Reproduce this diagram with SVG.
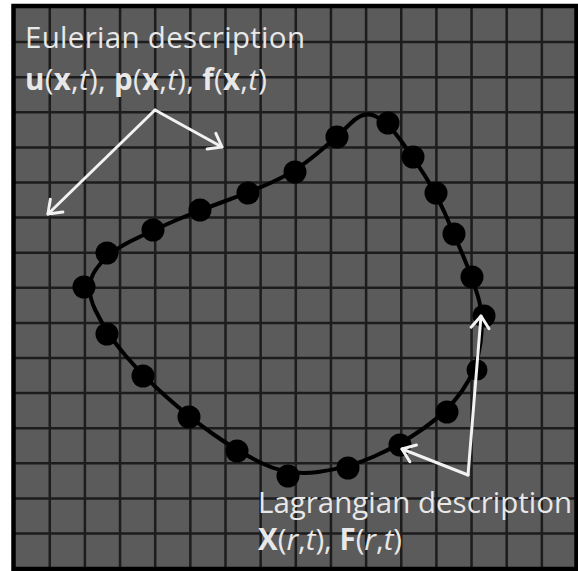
<svg xmlns="http://www.w3.org/2000/svg" width="578" height="571" viewBox="0 0 578 571">
  <style>
    .grid { stroke: #1c1c1c; stroke-width: 2.5; fill: none; }
    .curve { stroke: #000; stroke-width: 4; fill: none; stroke-linejoin: round; }
    .dot { fill: #000; }
    .arrow { stroke: #f2f2f2; stroke-width: 3; fill: none; stroke-linecap: round; stroke-linejoin: round; }
    .label { font-family: "Open Sans", "Noto Sans", "DejaVu Sans", sans-serif; font-size: 29.5px; fill: #e8e8e8; }
    .b { font-weight: bold; }
    .i { font-style: italic; }
  </style>
  <defs>
    <marker id="chev" markerUnits="userSpaceOnUse" markerWidth="30" markerHeight="30" viewBox="-15 -15 30 30" refX="0" refY="0" orient="auto">
      <path d="M-12,-9 L0,0 L-12,9" stroke="#f2f2f2" stroke-width="3" fill="none" stroke-linecap="round" stroke-linejoin="round"/>
    </marker>
  </defs>
  <rect x="0" y="0" width="578" height="571" fill="#ffffff"/>
  <g id="grid">
    <rect x="13.5" y="6" width="563" height="563" fill="#5b5b5b"/>
    <path class="grid" d="M49.75,6V569 M84.9,6V569 M120.05,6V569 M155.2,6V569 M190.35,6V569 M225.5,6V569 M260.65,6V569 M295.8,6V569 M330.95,6V569 M366.1,6V569 M401.25,6V569 M436.4,6V569 M471.55,6V569 M506.7,6V569 M541.85,6V569 M13.5,42.1H576.5 M13.5,77.2H576.5 M13.5,112.3H576.5 M13.5,147.4H576.5 M13.5,182.5H576.5 M13.5,217.6H576.5 M13.5,252.7H576.5 M13.5,287.8H576.5 M13.5,322.9H576.5 M13.5,358H576.5 M13.5,393.1H576.5 M13.5,428.2H576.5 M13.5,463.3H576.5 M13.5,498.4H576.5 M13.5,533.5H576.5"/>
    <rect x="13.5" y="6" width="563" height="563" fill="none" stroke="#000" stroke-width="4.5"/>
  </g>
  <g id="boundary">
    <path class="curve" d="M95.5,270 Q107,253 130,241.5 Q153,230 176.5,220 Q200,210 224,201.5 Q248,193 271.5,182.5 Q295,172 316,154.5 Q337,137 350.5,123.5 Q364,110 376,116.5 Q388,123 400.5,140 Q413,157 424.5,175 Q436,193 445,213.5 Q454,234 463,255.5 Q472,277 478,296.5 Q484,316 480.5,343 Q477,370 462,391 Q447,412 423.5,428.5 Q400,445 374,456.5 Q348,468 318,472 Q288,476 262.5,463.5 Q237,451 213,434 Q189,417 166,396.5 Q143,376 125,355 Q107,334 95.5,310.5 Q84,287 95.5,270 Z"/>
    <g class="dot">
      <circle cx="84" cy="287" r="11.5"/>
      <circle cx="107" cy="253" r="11.5"/>
      <circle cx="153" cy="230" r="11.5"/>
      <circle cx="200" cy="210" r="11.5"/>
      <circle cx="248" cy="193" r="11.5"/>
      <circle cx="295" cy="172" r="11.5"/>
      <circle cx="337" cy="137" r="11.5"/>
      <circle cx="388" cy="123" r="11.5"/>
      <circle cx="413" cy="157" r="11.5"/>
      <circle cx="436" cy="193" r="11.5"/>
      <circle cx="454" cy="234" r="11.5"/>
      <circle cx="472" cy="277" r="11.5"/>
      <circle cx="484" cy="316" r="11.5"/>
      <circle cx="477" cy="370" r="10.5"/>
      <circle cx="447" cy="412" r="11.5"/>
      <circle cx="400" cy="445" r="11.5"/>
      <circle cx="348" cy="468" r="11.5"/>
      <circle cx="288" cy="476" r="11.5"/>
      <circle cx="237" cy="451" r="11.5"/>
      <circle cx="189" cy="417" r="11.5"/>
      <circle cx="143" cy="376" r="11.5"/>
      <circle cx="107" cy="334" r="11.5"/>
    </g>
  </g>
  <g id="connectors">
    <path class="arrow" d="M155,110 L48,214" marker-end="url(#chev)"/>
    <path class="arrow" d="M155,110 L222,147" marker-end="url(#chev)"/>
    <path class="arrow" d="M468,475 L481,316" marker-end="url(#chev)"/>
    <path class="arrow" d="M468,475 L402,449" marker-end="url(#chev)"/>
  </g>
  <g id="eulerian-label">
    <text class="label" x="25" y="48" textLength="280" lengthAdjust="spacing">Eulerian description</text>
    <text class="label" x="25" y="90" textLength="242" lengthAdjust="spacing"><tspan class="b">u</tspan>(<tspan class="b">x</tspan>,<tspan class="i">t</tspan>), <tspan class="b">p</tspan>(<tspan class="b">x</tspan>,<tspan class="i">t</tspan>), <tspan class="b">f</tspan>(<tspan class="b">x</tspan>,<tspan class="i">t</tspan>)</text>
  </g>
  <g id="lagrangian-label">
    <text class="label" x="258" y="513">Lagrangian description</text>
    <text class="label" x="258" y="550"><tspan class="b">X</tspan>(<tspan class="i">r</tspan>,<tspan class="i">t</tspan>), <tspan class="b">F</tspan>(<tspan class="i">r</tspan>,<tspan class="i">t</tspan>)</text>
  </g>
</svg>
